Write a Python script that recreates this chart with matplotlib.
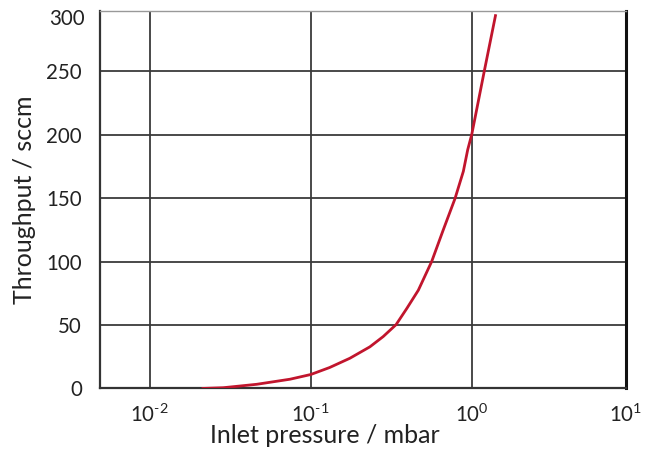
import matplotlib
matplotlib.use("Agg")
import matplotlib.pyplot as plt
from matplotlib.transforms import blended_transform_factory

plt.rcParams['font.family'] = ['Lato', 'DejaVu Sans']
plt.rcParams['mathtext.fontset'] = 'custom'
plt.rcParams['mathtext.rm'] = 'Lato'
plt.rcParams['mathtext.it'] = 'Lato'
plt.rcParams['mathtext.default'] = 'regular'

# Data
pressure = [0.021, 0.0286, 0.0462, 0.0744, 0.1, 0.131, 0.175, 0.233, 0.282,
            0.339, 0.395, 0.466, 0.564, 0.666, 0.787, 0.887, 0.944, 1.0,
            1.197, 1.41]
throughput = [0, 0.6, 3.3, 7.3, 11, 16.5, 23.8, 32.8, 40.9,
              50.3, 63, 77.4, 100, 125, 149.5, 171, 188, 200,
              250, 294.7]
x_ticks = [0.01, 0.1, 1]
x_ticklabels = [r'$10^{\text{-}2}$', r'$10^{\text{-}1}$', r'$10^{0}$']
y_ticks = [0, 50, 100, 150, 200, 250]

fig = plt.figure(figsize=(6.45, 4.5), dpi=100)
ax = fig.add_axes([0.155, 0.1367, 0.8155, 0.8395])

ax.plot(pressure, throughput, color='#C1152D', lw=2.0, solid_capstyle='butt',
        solid_joinstyle='round', zorder=3)

ax.set_xscale('log')
ax.set_xlim(10 ** -2.309, 10 ** 0.958)
ax.set_ylim(0, 297.5)
ax.set_xticks(x_ticks)
ax.set_xticklabels(x_ticklabels)
ax.minorticks_off()
ax.set_yticks(y_ticks)
ax.tick_params(axis='both', length=0, labelsize=14.8, colors='#222222')
ax.tick_params(axis='x', pad=11)
ax.tick_params(axis='y', pad=13)
ax.grid(True, color='#3a3a3a', lw=1.3)
ax.set_axisbelow(True)

for side in ['left', 'bottom']:
    ax.spines[side].set_color('#333333')
    ax.spines[side].set_linewidth(1.6)
ax.spines['right'].set_color('#111111')
ax.spines['right'].set_linewidth(2.2)
ax.spines['top'].set_color('#999999')
ax.spines['top'].set_linewidth(1.0)

# extra labels at the plot edges
tr_y = blended_transform_factory(ax.transAxes, ax.transData)
ax.text(-0.029, 291, '300', transform=tr_y, ha='right', va='center',
        fontsize=14.8, color='#222222')
ax.text(1.0, -0.041, r'$10^{1}$', transform=ax.transAxes, ha='center', va='top',
        fontsize=14.8, color='#222222', clip_on=False)

ax.set_xlabel('Inlet pressure / mbar', fontsize=18, color='#222222')
ax.xaxis.set_label_coords(0.427, -0.095)
ax.set_ylabel('Throughput / sccm', fontsize=18, color='#222222')
ax.yaxis.set_label_coords(-0.122, 0.5)

fig.savefig('out.png', dpi=100)
